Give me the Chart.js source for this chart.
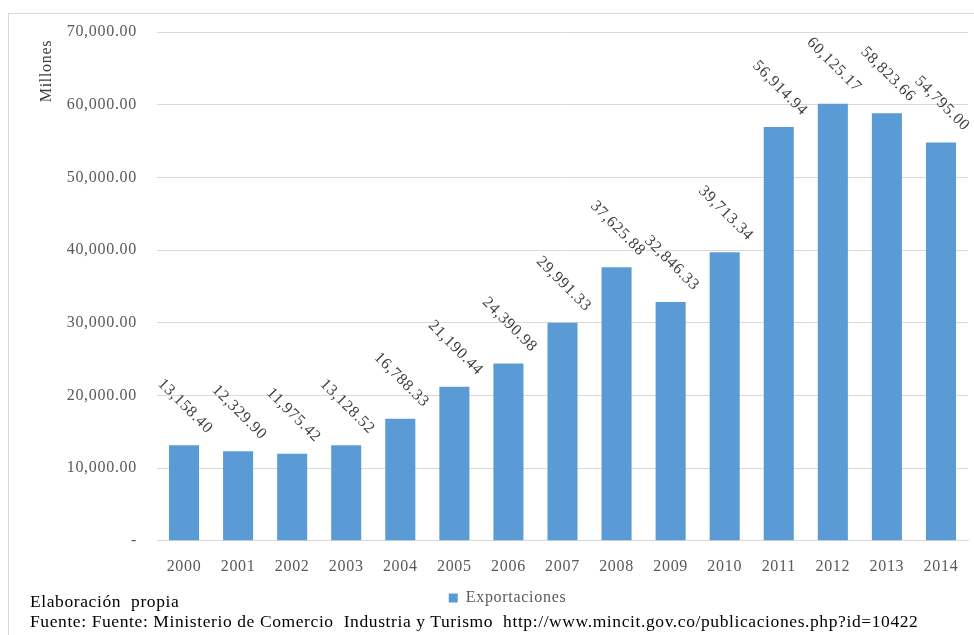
<!DOCTYPE html>
<html>
<head>
<meta charset="utf-8">
<script src="https://cdn.jsdelivr.net/npm/chart.js@4/dist/chart.umd.min.js"></script>
<style>
  html, body { margin: 0; padding: 0; background: #fff; overflow: hidden; }
  #wrap { position: relative; width: 974px; height: 635px; }
  #frame { position: absolute; left: 8px; top: 13px; width: 980px; height: 640px; border: 1px solid #d9d9d9; box-sizing: border-box; }
  canvas { position: absolute; left: 0; top: 0; }
  .note { position: absolute; left: 30px; font: 17.5px "Liberation Serif", "Times New Roman", serif; letter-spacing: 0.6px; color: #000; white-space: pre; }
</style>
</head>
<body>
<div id="wrap">
  <div id="frame"></div>
  <canvas id="chart" width="974" height="635"></canvas>
  <div class="note" style="top:591px">Elaboración  propia</div>
  <div class="note" style="top:611px">Fuente: Fuente: Ministerio de Comercio  Industria y Turismo  http://www.mincit.gov.co/publicaciones.php?id=10422</div>
</div>
<script>
const years = ["2000", "2001", "2002", "2003", "2004", "2005", "2006", "2007", "2008", "2009", "2010", "2011", "2012", "2013", "2014"]
const exportaciones = [13158.40, 12329.90, 11975.42, 13128.52, 16788.33, 21190.44, 24390.98, 29991.33, 37625.88, 32846.33, 39713.34, 56914.94, 60125.17, 58823.66, 54795.00]
const yTicks = [0, 10000, 20000, 30000, 40000, 50000, 60000, 70000]
const unitLabel = "Millones"

const serif = "'Liberation Serif', 'Times New Roman', serif"
const fmt = (v) => new Intl.NumberFormat("en-US", { minimumFractionDigits: 2, maximumFractionDigits: 2 }).format(v)

// slightly open letter spacing for all canvas text
const spacing = {
  id: "spacing",
  beforeInit(chart) { chart.ctx.letterSpacing = "0.7px" },
  beforeDraw(chart) { chart.ctx.letterSpacing = "0.7px" }
}

// Value labels tilted 45 degrees, ending just above each bar
const tiltedLabels = {
  id: "tiltedLabels",
  afterDatasetsDraw(chart) {
    const { ctx } = chart
    ctx.save()
    ctx.font = `16px ${serif}`
    ctx.fillStyle = "#404040"
    ctx.textAlign = "right"
    ctx.textBaseline = "middle"
    const meta = chart.getDatasetMeta(0)
    meta.data.forEach((bar, i) => {
      ctx.save()
      ctx.translate(bar.x + 26, bar.y - 14)
      ctx.rotate(Math.PI / 4)
      ctx.fillText(fmt(exportaciones[i]), 0, 0)
      ctx.restore()
    })
    ctx.restore()
  }
}

// unit caption up in the top-left corner, rotated
const unitCaption = {
  id: "unitCaption",
  afterDraw(chart) {
    const { ctx } = chart
    ctx.save()
    ctx.font = `16px ${serif}`
    ctx.fillStyle = "#404040"
    ctx.textAlign = "center"
    ctx.textBaseline = "middle"
    ctx.translate(47, 71)
    ctx.rotate(-Math.PI / 2)
    ctx.fillText(unitLabel, 0, 0)
    ctx.restore()
  }
}

Chart.defaults.font.family = serif
Chart.defaults.font.size = 16
Chart.defaults.color = "#595959"

new Chart(document.getElementById("chart"), {
  type: "bar",
  data: {
    labels: years,
    datasets: [{
      label: "Exportaciones",
      data: exportaciones,
      backgroundColor: "#5b9bd5",
      borderWidth: 0,
      barPercentage: 0.556,
      categoryPercentage: 1
    }]
  },
  options: {
    responsive: false,
    animation: false,
    layout: { padding: { left: 38, top: 32, right: 6, bottom: 19 } },
    plugins: {
      legend: {
        position: "bottom",
        labels: { boxWidth: 9, boxHeight: 9, padding: 6, font: { size: 16 }, color: "#595959" }
      },
      tooltip: { enabled: false }
    },
    scales: {
      x: {
        grid: { display: false },
        border: { color: "#d9d9d9" },
        ticks: { padding: 8, maxRotation: 0 }
      },
      y: {
        min: 0,
        max: 70000,
        afterBuildTicks: (axis) => { axis.ticks = yTicks.map(v => ({ value: v })) },
        afterFit: (axis) => { axis.width = 119 },
        grid: { color: "#d9d9d9", drawTicks: false },
        border: { display: false },
        ticks: {
          padding: 20,
          callback: (v) => v === 0 ? "-" : fmt(v)
        }
      }
    }
  },
  plugins: [spacing, tiltedLabels, unitCaption]
})
</script>
</body>
</html>
